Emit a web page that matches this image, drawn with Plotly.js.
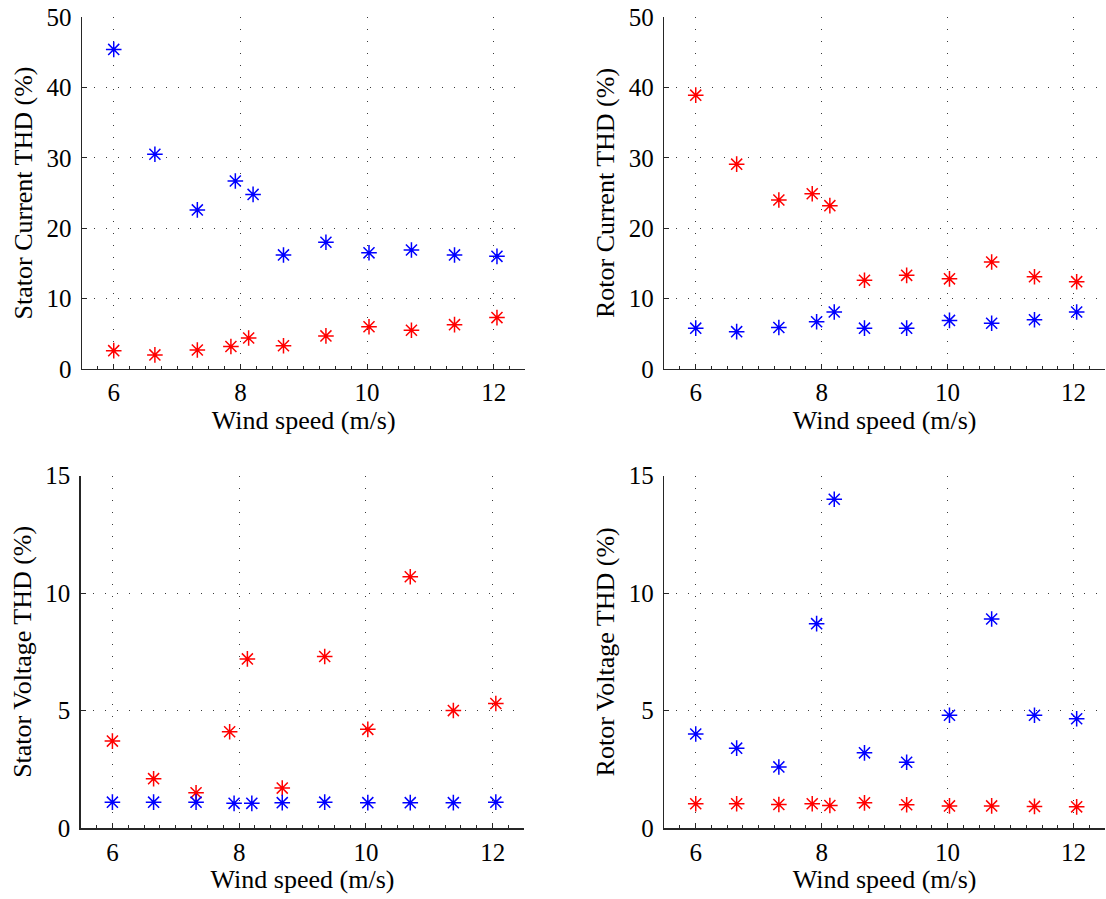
<!DOCTYPE html>
<html>
<head>
<meta charset="utf-8">
<script src="https://cdn.plot.ly/plotly-3.0.1.min.js"></script>
<style>
  html, body { margin: 0; padding: 0; background: #fff; }
  #chart { width: 1106px; height: 899px; }
</style>
</head>
<body>
<div id="chart"></div>
<script>
// Wind speeds (m/s) at which each operating point was measured
const windBlue = [6.0, 6.65, 7.32, 7.92, 8.2, 8.68, 9.35, 10.03, 10.7, 11.38, 12.05];
const windRed  = [6.0, 6.65, 7.32, 7.85, 8.13, 8.68, 9.35, 10.03, 10.7, 11.38, 12.05];

// THD (%) per quantity, two series each
const statorCurrentBlue = [45.4, 30.5, 22.6, 26.7, 24.8, 16.2, 18.0, 16.5, 16.9, 16.2, 16.0];
const statorCurrentRed  = [2.6, 2.0, 2.7, 3.2, 4.4, 3.3, 4.7, 6.0, 5.5, 6.3, 7.3];

const rotorCurrentBlue  = [5.8, 5.3, 5.9, 6.7, 8.1, 5.8, 5.8, 6.9, 6.5, 7.0, 8.1];
const rotorCurrentRed   = [38.9, 29.1, 24.0, 24.9, 23.2, 12.6, 13.3, 12.8, 15.2, 13.1, 12.4];

const statorVoltageBlue = [1.1, 1.1, 1.1, 1.05, 1.05, 1.08, 1.1, 1.08, 1.08, 1.08, 1.1];
const statorVoltageRed  = [3.7, 2.1, 1.5, 4.1, 7.2, 1.7, 7.3, 4.2, 10.7, 5.0, 5.3];

const rotorVoltageBlue  = [4.0, 3.4, 2.6, 8.7, 14.0, 3.2, 2.8, 4.8, 8.9, 4.8, 4.65];
const rotorVoltageRed   = [1.03, 1.03, 1.0, 1.03, 0.96, 1.07, 0.99, 0.94, 0.94, 0.92, 0.9];

// Axis text
const xTitle = 'Wind speed (m/s)';
const yTitles = ['Stator Current THD (%)', 'Rotor Current THD (%)',
                 'Stator Voltage THD (%)', 'Rotor Voltage THD (%)'];
const xTicks = [6, 8, 10, 12];
const yTicksCurrent = [0, 10, 20, 30, 40, 50];
const yTicksVoltage = [0, 5, 10, 15];

const BLUE = '#0000ff';
const RED = '#ff0000';
const FONT = '"Liberation Serif", "Times New Roman", Times, serif';

function stars(x, y, color, axisId) {
  return {
    type: 'scatter', mode: 'markers', x: x, y: y,
    xaxis: 'x' + axisId, yaxis: 'y' + axisId,
    marker: { symbol: 'asterisk-open', size: 13, color: color,
              line: { color: color, width: 1.5 } },
    showlegend: false, hoverinfo: 'x+y'
  };
}

const traces = [
  stars(windBlue, statorCurrentBlue, BLUE, ''),
  stars(windRed, statorCurrentRed, RED, ''),
  stars(windRed, rotorCurrentRed, RED, '2'),
  stars(windBlue, rotorCurrentBlue, BLUE, '2'),
  stars(windRed, statorVoltageRed, RED, '3'),
  stars(windBlue, statorVoltageBlue, BLUE, '3'),
  stars(windBlue, rotorVoltageBlue, BLUE, '4'),
  stars(windRed, rotorVoltageRed, RED, '4')
];

function xAxis(domain, anchor) {
  return {
    domain: domain, anchor: anchor, range: [5.5, 12.5],
    tickvals: xTicks, ticktext: xTicks.map(String),
    ticks: 'inside', ticklen: 5, tickwidth: 1, tickcolor: '#262626',
    minor: { dtick: 0.25, tick0: 0, ticks: 'inside', ticklen: 3, tickcolor: '#262626', showgrid: false },
    showline: true, linecolor: '#262626', linewidth: 1.5,
    showgrid: true, gridcolor: '#3a3a3a', gridwidth: 1, griddash: '1px,11px',
    zeroline: false,
    tickfont: { family: FONT, size: 25, color: '#000' },
    ticklabelstandoff: 1,
    title: { text: xTitle, font: { family: FONT, size: 26, color: '#000' }, standoff: 2 },
    fixedrange: true
  };
}

function yAxis(domain, anchor, ticks, title) {
  return {
    domain: domain, anchor: anchor, range: [0, ticks[ticks.length - 1]],
    tickvals: ticks, ticktext: ticks.map(String),
    ticks: 'inside', ticklen: 5, tickwidth: 1, tickcolor: '#262626',
    showline: true, linecolor: '#262626', linewidth: 1.5,
    showgrid: true, gridcolor: '#3a3a3a', gridwidth: 1, griddash: '1px,11px',
    zeroline: false,
    tickfont: { family: FONT, size: 25, color: '#000' },
    ticklabelstandoff: 4,
    title: { text: title, font: { family: FONT, size: 26, color: '#000' }, standoff: 6 },
    fixedrange: true
  };
}

const layout = {
  width: 1106, height: 899,
  margin: { l: 80, r: 1, t: 17, b: 71, pad: 0 },
  paper_bgcolor: '#ffffff', plot_bgcolor: '#ffffff',
  showlegend: false,
  xaxis:  xAxis([0.002, 0.4346], 'y'),
  yaxis:  yAxis([0.566, 1.0], 'x', yTicksCurrent, yTitles[0]),
  xaxis2: xAxis([0.570, 1.0], 'y2'),
  yaxis2: yAxis([0.566, 1.0], 'x2', yTicksCurrent, yTitles[1]),
  xaxis3: xAxis([0.0007, 0.4335], 'y3'),
  yaxis3: yAxis([0.0, 0.4344], 'x3', yTicksVoltage, yTitles[2]),
  xaxis4: xAxis([0.570, 1.0], 'y4'),
  yaxis4: yAxis([0.0, 0.4344], 'x4', yTicksVoltage, yTitles[3])
};

Plotly.newPlot('chart', traces, layout, { staticPlot: true, displayModeBar: false });
</script>
</body>
</html>
